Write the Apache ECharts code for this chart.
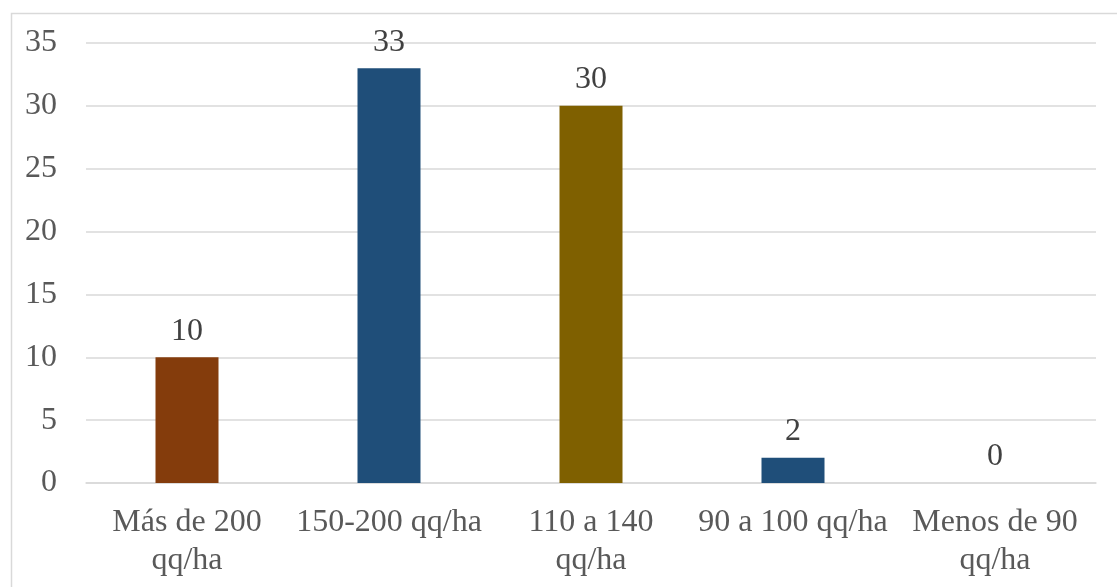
<!DOCTYPE html>
<html><head><meta charset="utf-8">
<script src="https://cdn.jsdelivr.net/npm/echarts@6/dist/echarts.min.js"></script>
<style>html,body{margin:0;padding:0;background:#fff}#c{width:1117px;height:587px}</style>
</head><body><div id="c"></div>
<script>
const categories = ["Más de 200\nqq/ha", "150-200 qq/ha", "110 a 140\nqq/ha", "90 a 100 qq/ha", "Menos de 90\nqq/ha"];
const values = [10, 33, 30, 2, 0];
const barColors = ["#843C0C", "#1F4E79", "#7F6000", "#1F4E79", "#1F4E79"];
const yTicks = {min: 0, max: 35, interval: 5};

const chart = echarts.init(document.getElementById('c'), null, {renderer: 'canvas'});
const font = '"Liberation Serif", "Times New Roman", serif';
chart.setOption({
  animation: false,
  graphic: [{type: 'rect', left: 9, top: 11, shape: {width: 1130, height: 600}, style: {fill: 'none', stroke: '#d9d9d9', lineWidth: 1.5}, silent: true}],
  grid: {left: 86, right: 21, top: 43, bottom: 104, containLabel: false},
  xAxis: {
    type: 'category', data: categories,
    axisLine: {show: true, lineStyle: {color: '#d9d9d9', width: 1.5}},
    axisTick: {show: false},
    axisLabel: {interval: 0, color: '#595959', fontFamily: font, fontSize: 32, lineHeight: 38, margin: 21}
  },
  yAxis: {
    type: 'value', min: yTicks.min, max: yTicks.max, interval: yTicks.interval,
    axisLine: {show: false}, axisTick: {show: false},
    splitLine: {lineStyle: {color: '#d9d9d9', width: 1.5}},
    axisLabel: {color: '#595959', fontFamily: font, fontSize: 32, margin: 29}
  },
  series: [{
    type: 'bar', barWidth: 63,
    data: values.map((v, i) => ({value: v, itemStyle: {color: barColors[i]}})),
    label: {show: true, position: 'top', distance: 10, color: '#404040', fontFamily: font, fontSize: 32}
  }]
});
</script></body></html>
